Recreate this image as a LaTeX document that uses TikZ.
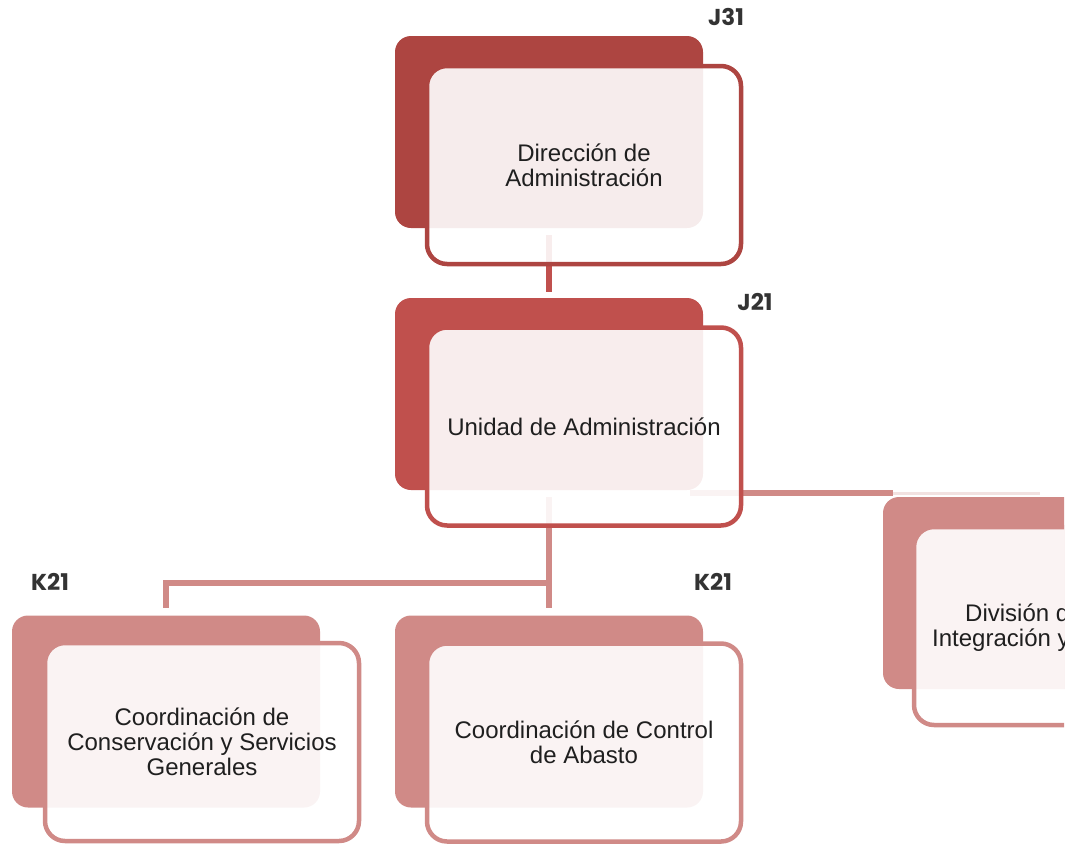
\documentclass[tikz,border=0pt]{standalone}
\usepackage{fontspec}
\setmainfont{Liberation Sans}
\newfontfamily\codefont{Poppins}
\definecolor{cA}{HTML}{AD4541}
\definecolor{cB}{HTML}{C0504D}
\definecolor{cC}{HTML}{D08A87}
\definecolor{txt}{HTML}{1F1F1F}
\definecolor{lbl}{HTML}{333333}
\definecolor{paleline}{HTML}{F2E2E1}
\begin{document}
\begin{tikzpicture}[x=1pt,y=-1pt,
  backbox/.style={fill=#1, draw=none, rounded corners=16pt, inner sep=0pt,
    minimum width=308pt, minimum height=192pt},
  frontbox/.style={draw=#1, line width=4.5pt, fill=white, fill opacity=0.9,
    rounded corners=20pt, inner sep=0pt, minimum width=314pt, minimum height=198pt},
  conn/.style={draw=#1, line width=6.5pt},
  boxtext/.style={text=txt, font=\fontsize{24}{25}\selectfont, align=center, inner sep=0pt},
  code/.style={text=lbl, font=\codefont\bfseries\fontsize{23}{25}\selectfont, inner sep=0pt}]
\useasboundingbox (0,0) rectangle (1076,849);
\begin{scope}
\clip (0,0) rectangle (1064,849);
% back boxes
\node[backbox=cA] (b1) at (549,132) {};
\node[backbox=cB] (b2) at (549,394) {};
\node[backbox=cC] (b3) at (166,711.5) {};
\node[backbox=cC] (b4) at (549,711.5) {};
\node[backbox=cC] (b5) at (1037,593) {};
% connectors
\coordinate (j) at (549,583);
\coordinate (r0) at (690,493);
\coordinate (r1) at (893,493);
\coordinate (r2) at (1040,493);
\draw[conn=cB, shorten <=7pt, shorten >=6pt] (b1.south) -- (b2.north);
\draw[conn=cC, shorten <=7pt, shorten >=7pt] (b2.south) -- (b4.north);
\draw[conn=cC, shorten >=7pt] (b4.north |- j) -| (b3.north);
\draw[conn=cC, line width=5.5pt] (r0) -- (r1);
\draw[draw=paleline, line width=3pt] (r1) -- (r2);
% front boxes
\node[frontbox=cA] (f1) at (584,165) {};
\node[frontbox=cB] (f2) at (584,426.5) {};
\node[frontbox=cC] (f3) at (202,742) {};
\node[frontbox=cC] (f4) at (584,742.5) {};
\node[frontbox=cC] (f5) at (1071,626) {};
% texts
\node[boxtext] (t1) at (f1.center) {Dirección de\\Administración};
\node[boxtext] (t2) at (f2.center) {Unidad de Administración};
\node[boxtext] (t3) at (f3.center) {Coordinación de\\Conservación y Servicios\\Generales};
\node[boxtext] (t4) at (f4.center) {Coordinación de Control\\de Abasto};
\node[boxtext, anchor=base west] (t5a) at (965,621) {División de};
\node[boxtext, anchor=base west] (t5b) at (932,646) {Integración y};
\end{scope}
% codes
\node[code] (c1) at (726,17) {J31};
\node[code] (c2) at (755,302) {J21};
\node[code] (c3) at (50,582) {K21};
\node[code] (c4) at (713,582) {K21};
\end{tikzpicture}
\end{document}
